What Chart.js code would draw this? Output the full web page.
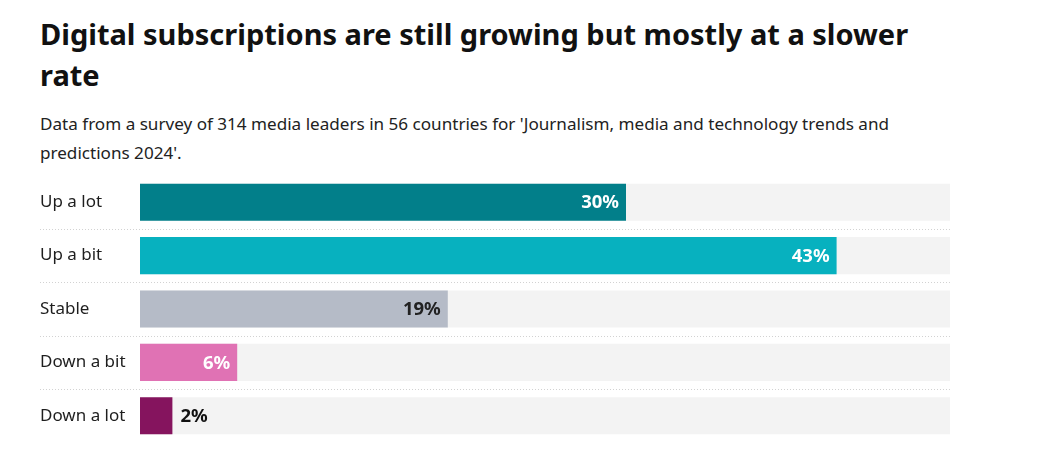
<!DOCTYPE html>
<html>
<head>
<meta charset="utf-8">
<script src="https://cdn.jsdelivr.net/npm/chart.js@4/dist/chart.umd.min.js"></script>
<style>
  body { margin: 0; background: #fff; font-family: "Noto Sans", sans-serif; color: #1a1a1a; }
  #head { position: absolute; left: 40px; top: 0; width: 960px; }
  h1 { margin: 13px 0 0 0; font-size: 29px; line-height: 41px; font-weight: 700; color: #111; white-space: nowrap; }
  p { margin: 14px 0 0 0; font-size: 17.1px; line-height: 29px; color: #222; white-space: nowrap; }
  #wrap { position: absolute; left: 40px; top: 170px; width: 910px; height: 275px; }
</style>
</head>
<body>
<div id="head">
  <h1>Digital subscriptions are still growing but mostly at a slower<br>rate</h1>
  <p>Data from a survey of 314 media leaders in 56 countries for 'Journalism, media and technology trends and<br>predictions 2024'.</p>
</div>
<div id="wrap"><canvas id="chart"></canvas></div>

<script>
// categories and values (%)
const categories = ["Up a lot", "Up a bit", "Stable", "Down a bit", "Down a lot"];
const shares = [30, 43, 19, 6, 2];
const barColors = ["#027f8a", "#07b1bf", "#b5bbc7", "#e072b4", "#85145e"];
const labelColors = ["#ffffff", "#ffffff", "#222222", "#ffffff", "#111111"];
const axisMax = 50;
const track = categories.map(() => axisMax);

// value labels + dotted row separators
const rowExtras = {
  id: "rowExtras",
  beforeDatasetsDraw(chart) {
    const ctx = chart.ctx;
    const y = chart.scales.y;
    const step = y.getPixelForValue(1) - y.getPixelForValue(0);
    ctx.save();
    ctx.strokeStyle = "#d2d2d2";
    ctx.lineWidth = 1;
    ctx.setLineDash([1, 2]);
    for (let i = 0; i < categories.length - 1; i++) {
      const py = Math.round(y.getPixelForValue(i) + step / 2) + 0.5;
      ctx.beginPath();
      ctx.moveTo(0, py);
      ctx.lineTo(chart.chartArea.right, py);
      ctx.stroke();
    }
    ctx.restore();
  },
  afterDatasetsDraw(chart) {
    const ctx = chart.ctx;
    const meta = chart.getDatasetMeta(1);
    ctx.save();
    ctx.font = "bold 18.5px 'Noto Sans', sans-serif";
    ctx.textBaseline = "middle";
    meta.data.forEach((bar, i) => {
      const txt = shares[i] + "%";
      const w = ctx.measureText(txt).width;
      const barW = bar.x - bar.base;
      ctx.fillStyle = labelColors[i];
      if (barW > w + 14) {
        ctx.textAlign = "right";
        ctx.fillText(txt, bar.x - 7, bar.y + 1);
      } else {
        ctx.textAlign = "left";
        ctx.fillText(txt, bar.x + 8, bar.y + 1);
      }
    });
    ctx.restore();
  }
};

new Chart(document.getElementById("chart"), {
  type: "bar",
  data: {
    labels: categories,
    datasets: [
      {
        data: track,
        backgroundColor: "#f3f3f3",
        grouped: false,
        order: 2,
        barPercentage: 0.695,
        categoryPercentage: 1
      },
      {
        data: shares,
        backgroundColor: barColors,
        grouped: false,
        order: 1,
        barPercentage: 0.695,
        categoryPercentage: 1
      }
    ]
  },
  options: {
    indexAxis: "y",
    responsive: true,
    maintainAspectRatio: false,
    animation: false,
    layout: { padding: { top: 5.5, bottom: 2.5, left: 0, right: 0 } },
    plugins: {
      legend: { display: false },
      tooltip: { enabled: false }
    },
    scales: {
      x: { display: false, min: 0, max: axisMax },
      y: {
        grid: { display: false },
        border: { display: false },
        afterFit: (scale) => {
          scale.width = 100;
          scale.paddingTop = 0;
          scale.paddingBottom = 0;
        },
        ticks: {
          crossAlign: "far",
          padding: 0,
          color: "#1e1e1e",
          font: { family: "'Noto Sans', sans-serif", size: 17 }
        }
      }
    }
  },
  plugins: [rowExtras]
});
</script>
</body>
</html>
